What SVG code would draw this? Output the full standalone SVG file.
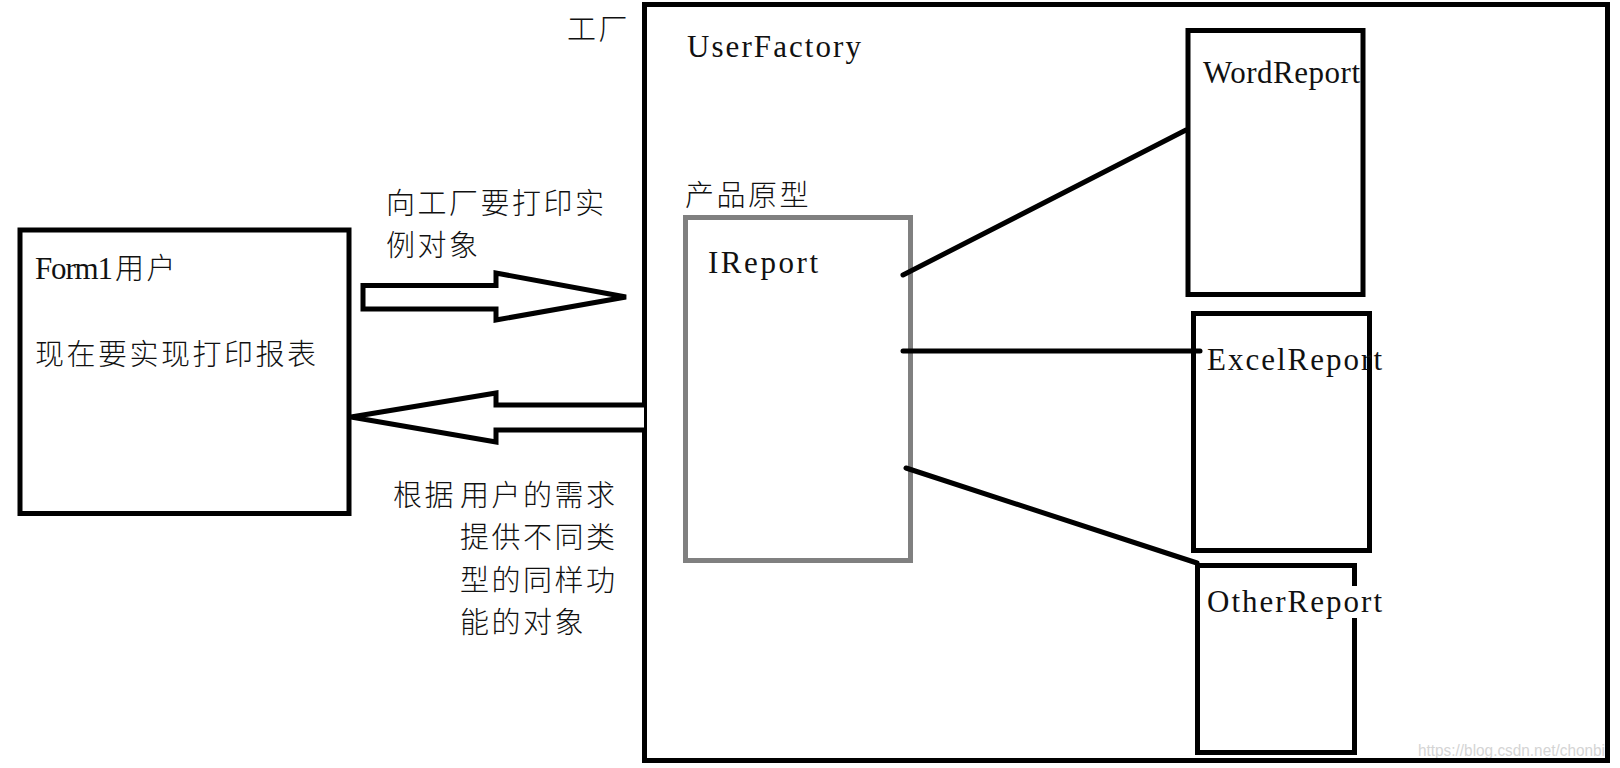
<svg xmlns="http://www.w3.org/2000/svg" width="1620" height="768" viewBox="0 0 1620 768">
<style>
.box{fill:none;stroke:#000;stroke-width:5}
.gbox{fill:none;stroke:#808080;stroke-width:5}
.ln{fill:none;stroke:#000;stroke-width:5;stroke-linecap:round}
.arr{fill:#fff;stroke:#000;stroke-width:5;stroke-linejoin:miter}
.cjk{font-family:"Noto Sans CJK SC","Noto Sans",sans-serif;font-size:29px;font-weight:300;letter-spacing:2.5px;fill:#111}
.lat{font-family:"Liberation Serif",serif;font-size:31px;fill:#111}
.wm{font-family:"Liberation Sans",sans-serif;font-size:16px;fill:#d4d4d4}
</style>
<rect width="1620" height="768" fill="#fff"/>
<text class="wm" x="1418" y="756" textLength="187" lengthAdjust="spacingAndGlyphs">https://blog.csdn.net/chonbi</text>

<g id="factory">
<rect class="box" x="644.5" y="4.5" width="963" height="756"/>
<text class="cjk" x="567" y="40">工厂</text>
<text class="lat" x="687" y="57" textLength="174" lengthAdjust="spacing">UserFactory</text>
</g>

<g id="form1">
<rect class="box" x="20" y="230" width="329" height="283.5"/>
<text x="35" y="279"><tspan class="lat" textLength="78" lengthAdjust="spacing">Form1</tspan><tspan class="cjk" x="115">用户</tspan></text>
<text class="cjk" x="35" y="365">现在要实现打印报表</text>
</g>

<g id="ireport">
<text class="cjk" x="685" y="206">产品原型</text>
<rect class="gbox" x="685.5" y="217.5" width="225" height="343"/>
<text class="lat" x="708" y="273" textLength="110" lengthAdjust="spacing">IReport</text>
</g>

<g id="wordreport">
<rect class="box" x="1188" y="30.5" width="175" height="264"/>
<text class="lat" x="1203" y="83" textLength="157" lengthAdjust="spacing">WordReport</text>
</g>

<g id="excelreport">
<rect class="box" x="1193.5" y="313.5" width="176" height="237"/>
<text class="lat" x="1207" y="370" textLength="175" lengthAdjust="spacing">ExcelReport</text>
</g>

<g id="otherreport">
<rect class="box" x="1197.5" y="565.5" width="157" height="187"/>
<rect x="1205" y="586" width="178" height="32" fill="#fff"/>
<text class="lat" x="1207" y="612" textLength="175" lengthAdjust="spacing">OtherReport</text>
</g>

<g id="labels">
<text class="cjk" x="386" y="214">向工厂要打印实</text>
<text class="cjk" x="386" y="256">例对象</text>
<text class="cjk" y="506"><tspan x="393">根据</tspan><tspan x="460">用户的需求</tspan></text>
<text class="cjk" x="460" y="548">提供不同类</text>
<text class="cjk" x="460" y="591">型的同样功</text>
<text class="cjk" x="460" y="633">能的对象</text>
</g>

<g id="connectors">
<polygon class="arr" points="363,285.5 496,285.5 496,273 626,297 496,320 496,309 363,309"/>
<polyline class="arr" points="644,405 496,405 496,393 351,417 496,442 496,430 644,430"/>
<line class="ln" x1="903" y1="275" x2="1186" y2="130"/>
<line class="ln" x1="903" y1="351" x2="1200" y2="351"/>
<line class="ln" x1="906" y1="468" x2="1197" y2="563"/>
</g>
</svg>
